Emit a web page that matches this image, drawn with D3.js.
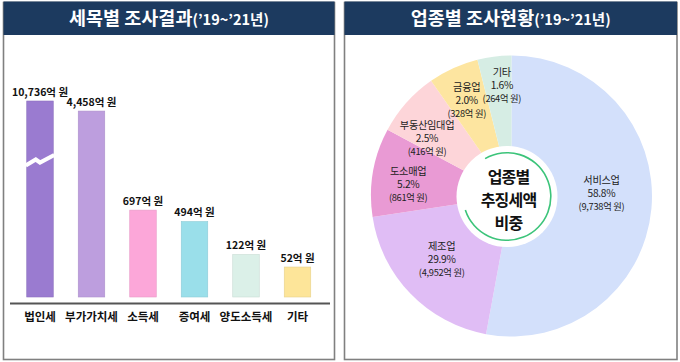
<!DOCTYPE html>
<html><head><meta charset="utf-8">
<script src="https://cdn.jsdelivr.net/npm/d3@7"></script>
<style>
html,body{margin:0;padding:0;background:#fff;}
svg{display:block;font-family:"Noto Sans CJK KR","Noto Sans",sans-serif;}
</style></head>
<body><svg id="c" width="680" height="362"></svg>
<script>
// ---- data ----
const taxCats = ['법인세','부가가치세','소득세','증여세','양도소득세','기타'];
const taxValues = [10736, 4458, 697, 494, 122, 52];
const taxColors = ['#9a7bd0','#bd9ede','#fca7d9','#9adfea','#dbf0e8','#fde599'];

const indCats = ['서비스업','제조업','도소매업','부동산임대업','금융업','기타'];
const indPct = ['58.8%','29.9%','5.2%','2.5%','2.0%','1.6%'];
const indAmount = ['9,738','4,952','861','416','328','264'];
// slice sizes as drawn in the picture (share of the circle, %)
const indSliceShare = [52.9, 19.7, 10.2, 7.5, 5.8, 3.9];
const indColors = ['#d3e0fb','#e0bdf5','#e99ad4','#fdd5d9','#fde5a0','#d6ede4'];

const leftTitle = ['세목별 조사결과', '(’19~’21년)'];
const rightTitle = ['업종별 조사현황', '(’19~’21년)'];
const centerText = ['업종별','추징세액','비중'];

// label placement (layout): polar angle in degrees and radius
const labelAngle = [88, 228, 276.6, 304.5, 335, 355];
const labelRadius = [90, 94, 104, 102.5, 106, 111];

const svg = d3.select('#c');
const navy = '#1c3a5f';

// ---- panels ----
function panel(x, w, title){
  svg.append('rect').attr('x', x).attr('y', 2.5).attr('width', w).attr('height', 357)
    .attr('fill', '#fff').attr('stroke', '#808080').attr('stroke-width', 1.6);
  svg.append('rect').attr('x', x).attr('y', 1.5).attr('width', w).attr('height', 33.5).attr('fill', navy);
  const t = svg.append('text').attr('x', x + w/2).attr('y', 25).attr('text-anchor','middle')
    .attr('fill','#fff').attr('font-weight','bold');
  t.append('tspan').attr('font-size', 18.5).text(title[0]);
  t.append('tspan').attr('font-size', 14.5).text(title[1]);
}
panel(3.5, 331, leftTitle);
panel(344.5, 332.5, rightTitle);

// ---- bar chart ----
const baseY = 297;
const x = d3.scaleBand().domain(taxCats).range([14.25, 323.25]).paddingInner(0.485).paddingOuter(0.2425);
const y = d3.scalePow().exponent(0.41).domain([0, 5070]).range([baseY, 101]).clamp(true);

const bars = svg.append('g');
bars.selectAll('rect').data(taxCats).join('rect')
  .attr('x', d => x(d)).attr('width', x.bandwidth())
  .attr('y', (d,i) => y(taxValues[i])).attr('height', (d,i) => baseY - y(taxValues[i]))
  .attr('fill', (d,i) => taxColors[i])
  .attr('stroke', (d,i) => d3.color(taxColors[i]).darker(0.25)).attr('stroke-width', 0.6);

// axis break on the clamped bar
const bx0 = x(taxCats[0]), bw = x.bandwidth();
const breakY = y.range()[1] + 59;
svg.append('path')
  .attr('d', d3.line()([[bx0-1, breakY+5.5],[bx0+bw*0.34, breakY-0.5],[bx0+bw*0.5, breakY+2.5],[bx0+bw+1, breakY-5]]))
  .attr('fill','none').attr('stroke','#fff').attr('stroke-width',4.2);

bars.selectAll('text.v').data(taxCats).join('text').attr('class','v')
  .attr('x', d => x(d) + bw/2).attr('y', (d,i) => y(taxValues[i]) - 5.5)
  .attr('text-anchor','middle').attr('font-size', 10.5).attr('font-weight','bold').attr('fill','#111')
  .text((d,i) => d3.format(',')(taxValues[i]) + '억 원');

// baseline
const xAxis = svg.append('g').attr('transform', `translate(0,${baseY + 6.5})`)
  .call(d3.axisBottom(x).tickSize(0).tickPadding(9.5));
xAxis.select('.domain').attr('d', 'M10,0H330').attr('stroke','#555').attr('stroke-width',2);
xAxis.selectAll('text').attr('font-size', 11.5).attr('font-weight','bold').attr('fill','#111')
  .attr('font-family','"Noto Sans CJK KR",sans-serif');

// ---- pie ----
const cx = 511.5, cy = 196, R = 140.5;
const g = svg.append('g').attr('transform', `translate(${cx},${cy})`);
const pie = d3.pie().sort(null).value(d => d);
const arcs = pie(indSliceShare);
const arc = d3.arc().innerRadius(0).outerRadius(R);
g.selectAll('path.s').data(arcs).join('path').attr('class','s')
  .attr('d', arc).attr('fill', (d,i) => indColors[i]);

const lab = g.selectAll('text.l').data(arcs).join('text').attr('class','l')
  .attr('transform', (d,i) => {
    const a = labelAngle[i] * Math.PI / 180;
    return `translate(${labelRadius[i]*Math.sin(a)},${-labelRadius[i]*Math.cos(a)})`;
  })
  .attr('text-anchor','middle').attr('fill','#222').attr('letter-spacing', -0.3);
lab.each(function(d,i){
  const t = d3.select(this);
  const lines = [indCats[i], indPct[i], '(' + indAmount[i] + '억 원)'];
  lines.forEach((s,k) => t.append('tspan').attr('x',0).attr('y', -9 + k*13).text(s)
    .attr('font-size', k===2 ? 9.3 : 10.2));
});

// center disk
const ic = svg.append('g').attr('transform', `translate(${cx - 4.5},${cy + 0.5})`);
ic.append('circle').attr('r', 50.5).attr('fill','#fff');
ic.append('path').attr('d', d3.arc().innerRadius(43).outerRadius(44.6)
    .startAngle(-30 * Math.PI/180).endAngle(252 * Math.PI/180)())
  .attr('fill','#3cc47a');
ic.selectAll('text').data(centerText).join('text')
  .attr('x', 1.5).attr('y', (d,i) => -14 + i*23).attr('text-anchor','middle')
  .attr('font-size', 16).attr('font-weight','bold').attr('fill','#111').attr('letter-spacing', -0.8)
  .text(d => d);
</script></body></html>
